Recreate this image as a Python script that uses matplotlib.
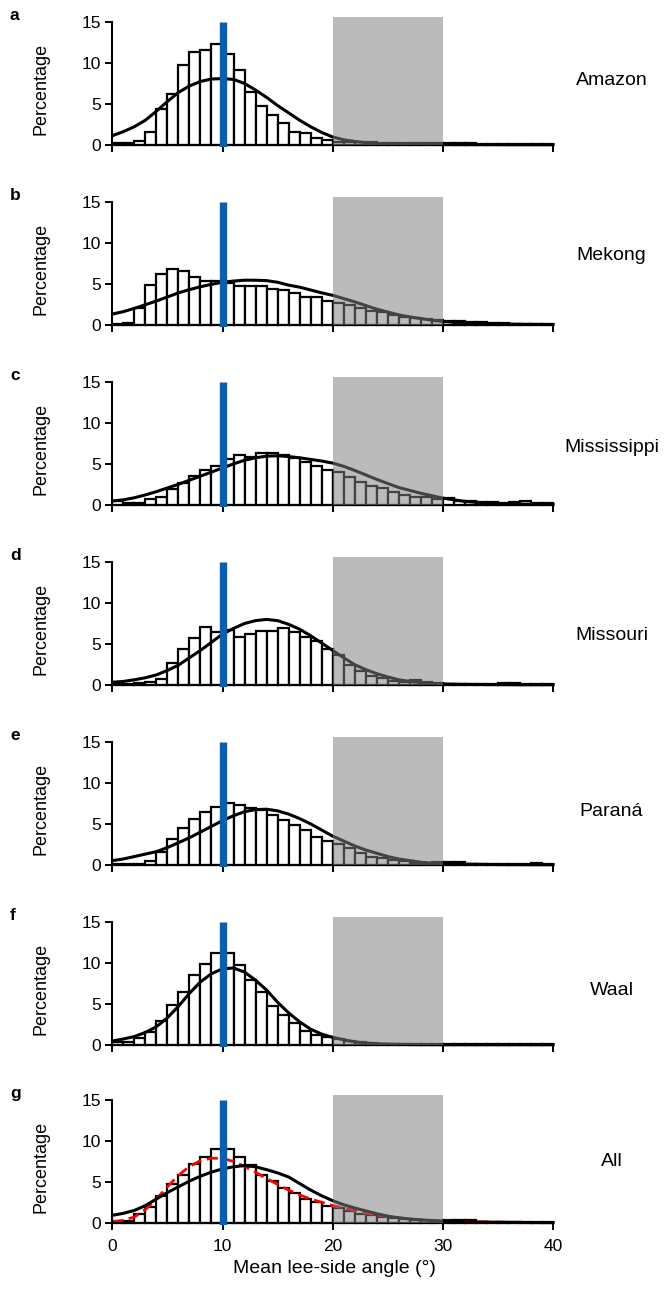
import numpy as np
import matplotlib
matplotlib.use("Agg")
from matplotlib import pyplot as plt

plt.rcParams["font.family"] = ["Liberation Sans", "DejaVu Sans"]

rivers = ["Amazon", "Mekong", "Mississippi", "Missouri", "Paraná", "Waal", "All"]
letters = ["a", "b", "c", "d", "e", "f", "g"]
name_y = [7.9, 8.5, 7.0, 6.0, 6.5, 6.7, 7.5]  # y-value where the river name sits

bin_edges = np.arange(0, 40)  # left edges of 1-degree bins
curve_x = np.arange(0, 41)

# histogram percentages per 1-degree bin (0-1 ... 39-40)
hist_amazon = [0.25, 0.25, 0.5, 1.55, 4.4, 6.2, 9.75, 11.4, 11.6, 12.4,
               11.1, 9.2, 6.4, 4.7, 3.6, 2.7, 1.55, 1.4, 0.8, 0.55,
               0.35, 0.35, 0.3, 0.3, 0.25, 0.2, 0.2, 0.15, 0.15, 0.15,
               0.15, 0.15, 0.15, 0.12, 0.12, 0.12, 0.1, 0.1, 0.1, 0.1]
hist_mekong = [0.05, 0.25, 2.1, 4.9, 6.2, 6.8, 6.6, 5.8, 5.35, 5.35,
               5.1, 4.8, 4.8, 4.8, 4.4, 4.2, 3.9, 3.35, 3.35, 2.85,
               2.6, 2.4, 2.1, 1.7, 1.5, 1.2, 1.0, 0.85, 0.7, 0.55,
               0.5, 0.4, 0.3, 0.3, 0.2, 0.15, 0.12, 0.1, 0.1, 0.08]
hist_mississippi = [0.4, 0.25, 0.25, 0.65, 1.0, 1.9, 2.6, 3.5, 4.2, 4.8,
                    5.55, 6.1, 5.9, 6.3, 6.3, 6.1, 5.7, 5.2, 4.8, 4.3,
                    4.0, 3.35, 2.8, 2.3, 2.0, 1.6, 1.2, 1.0, 0.9, 0.7,
                    0.8, 0.5, 0.4, 0.3, 0.3, 0.25, 0.3, 0.4, 0.15, 0.15]
hist_missouri = [0.1, 0.1, 0.2, 0.3, 0.65, 2.7, 4.4, 5.7, 7.1, 6.5,
                 6.7, 5.8, 6.2, 6.6, 6.6, 6.9, 6.5, 5.9, 5.4, 4.4,
                 3.6, 2.4, 1.7, 1.1, 0.8, 0.5, 0.35, 0.6, 0.3, 0.2,
                 0.1, 0.1, 0.1, 0.1, 0.1, 0.15, 0.25, 0.1, 0.1, 0.1]
hist_parana = [0.1, 0.1, 0.1, 0.4, 1.5, 3.2, 4.5, 5.6, 6.4, 7.1,
               7.6, 7.3, 6.9, 6.65, 6.1, 5.5, 4.9, 4.3, 3.4, 2.9,
               2.5, 2.0, 1.4, 1.0, 0.8, 0.6, 0.4, 0.2, 0.12, 0.3,
               0.35, 0.35, 0.1, 0.1, 0.1, 0.1, 0.1, 0.1, 0.2, 0.1]
hist_waal = [0.3, 0.3, 0.85, 1.55, 2.85, 4.85, 6.4, 8.5, 9.9, 11.2,
             11.2, 9.8, 7.9, 6.4, 4.8, 3.6, 2.6, 1.7, 1.15, 0.9,
             0.7, 0.45, 0.3, 0.2, 0.1, 0.1, 0.1, 0.1, 0.1, 0.05,
             0.05, 0.05, 0.05, 0.05, 0.05, 0.05, 0.05, 0.05, 0.05, 0.05]
hist_all = [0.15, 0.25, 1.05, 1.9, 3.3, 4.8, 5.9, 7.2, 8.0, 9.0,
            9.0, 8.0, 7.1, 5.9, 5.1, 4.2, 3.6, 2.9, 2.5, 2.05,
            1.75, 1.45, 1.1, 0.9, 0.7, 0.55, 0.45, 0.35, 0.3, 0.25,
            0.3, 0.3, 0.3, 0.12, 0.12, 0.12, 0.12, 0.12, 0.12, 0.1]

# fitted distribution, read at every degree 0..40
fit_amazon = [1.1, 1.6, 2.2, 3.0, 4.1, 5.3, 6.4, 7.2, 7.75, 8.05,
              8.1, 8.0, 7.5, 6.7, 5.8, 4.8, 3.9, 3.0, 2.2, 1.5,
              0.95, 0.6, 0.4, 0.25, 0.15, 0.1, 0.07, 0.05, 0.04, 0.03,
              0.02, 0.02, 0.01, 0.01, 0.01, 0.01, 0.0, 0.0, 0.0, 0.0, 0.0]
fit_mekong = [1.3, 1.6, 2.0, 2.45, 2.9, 3.4, 3.9, 4.3, 4.65, 4.95,
              5.2, 5.35, 5.45, 5.45, 5.4, 5.2, 4.85, 4.6, 4.25, 3.9,
              3.6, 3.2, 2.8, 2.35, 1.9, 1.55, 1.2, 0.95, 0.75, 0.55,
              0.4, 0.3, 0.25, 0.18, 0.13, 0.1, 0.07, 0.05, 0.04, 0.03, 0.02]
fit_mississippi = [0.45, 0.6, 0.85, 1.2, 1.6, 2.05, 2.5, 3.0, 3.5, 4.0,
                   4.5, 5.0, 5.45, 5.75, 5.95, 6.0, 5.9, 5.75, 5.55, 5.35,
                   5.1, 4.7, 4.2, 3.65, 3.1, 2.6, 2.1, 1.75, 1.4, 1.1,
                   0.8, 0.6, 0.4, 0.3, 0.2, 0.15, 0.1, 0.07, 0.05, 0.03, 0.02]
fit_missouri = [0.3, 0.4, 0.6, 0.85, 1.2, 1.75, 2.4, 3.3, 4.2, 5.2,
                6.2, 6.9, 7.5, 7.85, 8.0, 7.85, 7.4, 6.8, 6.0, 5.1,
                4.2, 3.3, 2.45, 1.85, 1.35, 0.95, 0.6, 0.4, 0.25, 0.15,
                0.1, 0.06, 0.04, 0.03, 0.02, 0.01, 0.01, 0.0, 0.0, 0.0, 0.0]
fit_parana = [0.5, 0.7, 1.0, 1.3, 1.6, 2.1, 2.7, 3.3, 4.0, 4.7,
              5.4, 6.0, 6.5, 6.75, 6.8, 6.6, 6.2, 5.65, 5.0, 4.25,
              3.5, 2.9, 2.3, 1.8, 1.4, 1.0, 0.7, 0.5, 0.3, 0.2,
              0.15, 0.1, 0.07, 0.05, 0.03, 0.02, 0.01, 0.01, 0.0, 0.0, 0.0]
fit_waal = [0.45, 0.7, 1.0, 1.5, 2.2, 3.3, 4.7, 6.3, 7.7, 8.7,
            9.3, 9.4, 8.9, 7.9, 6.7, 5.2, 3.9, 2.8, 1.9, 1.3,
            0.9, 0.6, 0.35, 0.2, 0.12, 0.07, 0.04, 0.02, 0.01, 0.01,
            0.0, 0.0, 0.0, 0.0, 0.0, 0.0, 0.0, 0.0, 0.0, 0.0, 0.0]
fit_all = [0.9, 1.15, 1.5, 2.1, 2.9, 3.7, 4.4, 5.1, 5.7, 6.2,
           6.6, 6.85, 7.0, 6.85, 6.5, 6.1, 5.6, 4.8, 4.0, 3.3,
           2.7, 2.2, 1.8, 1.45, 1.1, 0.8, 0.6, 0.45, 0.35, 0.25,
           0.2, 0.15, 0.1, 0.08, 0.06, 0.05, 0.04, 0.03, 0.02, 0.02, 0.01]
# second (red dashed) fit, panel g only
fit2_all = [0.1, 0.3, 0.7, 1.6, 2.9, 4.4, 5.8, 6.9, 7.6, 7.9,
            7.9, 7.5, 6.9, 6.2, 5.4, 4.7, 4.0, 3.4, 2.9, 2.5,
            2.1, 1.8, 1.5, 1.2, 0.95, 0.75, 0.6, 0.45, 0.35, 0.28,
            0.22, 0.18, 0.14, 0.11, 0.09, 0.07, 0.06, 0.05, 0.04, 0.03, 0.02]

hists = [hist_amazon, hist_mekong, hist_mississippi, hist_missouri,
         hist_parana, hist_waal, hist_all]
fits = [fit_amazon, fit_mekong, fit_mississippi, fit_missouri,
        fit_parana, fit_waal, fit_all]

blue_x = 10
shade_range = (20, 30)

W, H = 667, 1290
fig = plt.figure(figsize=(W / 100, H / 100), dpi=100)

baselines = [144.7, 324.7, 504.7, 684.7, 864.7, 1044.7, 1222.7]
px_per_unit = 8.16
ymin, ymax = -0.3, 15.8
x0_px, px_per_deg = 112.3, 11.02
xmax = 40.3

for i, (hist, fit) in enumerate(zip(hists, fits)):
    base = baselines[i]
    bottom_px = base - ymin * px_per_unit
    top_px = base - ymax * px_per_unit
    ax = fig.add_axes([x0_px / W, 1 - bottom_px / H,
                       xmax * px_per_deg / W, (bottom_px - top_px) / H])

    ax.bar(bin_edges, hist, width=1, align="edge", color="white",
           edgecolor="black", linewidth=1.6, zorder=2)
    ax.plot(curve_x, fit, color="black", lw=2.2, zorder=4)
    if i == 6:
        ax.plot(curve_x, fit2_all, color="red", lw=2.0, ls=(0, (4, 2)), zorder=3)
    ax.plot([blue_x, blue_x], [-0.35, 15], color="#0b5db0", lw=5.3,
            solid_capstyle="butt", zorder=5)
    ax.fill_between(shade_range, 0, 15.7, color="#808080", alpha=0.53,
                    lw=0, zorder=6)

    ax.set_xlim(0, xmax)
    ax.set_ylim(ymin, ymax)
    for s in ["top", "right"]:
        ax.spines[s].set_visible(False)
    ax.spines["bottom"].set_position(("data", 0))
    ax.spines["bottom"].set_bounds(0, 40)
    ax.spines["left"].set_bounds(0, 15)
    for s in ["bottom", "left"]:
        ax.spines[s].set_linewidth(1.5)
        ax.spines[s].set_zorder(3)
    ax.set_xticks([0, 10, 20, 30, 40])
    ax.set_yticks([0, 5, 10, 15])
    ax.tick_params(direction="out", length=5, width=1.4, labelsize=12.5,
                   pad=3)
    if i < 6:
        ax.set_xticklabels([])
    else:
        ax.tick_params(axis="x", pad=7)
        ax.set_xlabel("Mean lee-side angle (°)", fontsize=14, labelpad=4)
    ax.set_ylabel("Percentage", fontsize=13)
    ax.yaxis.set_label_coords(-0.142, 0.44)
    ax.patch.set_alpha(0)

    ax.text(45.3, name_y[i], rivers[i], ha="center", va="center",
            fontsize=14, clip_on=False)
    fig.text(10 / W, 1 - (base - 129) / H, letters[i], fontweight="bold",
             fontsize=12.5, ha="left", va="center")

fig.savefig("out.png", dpi=100)
